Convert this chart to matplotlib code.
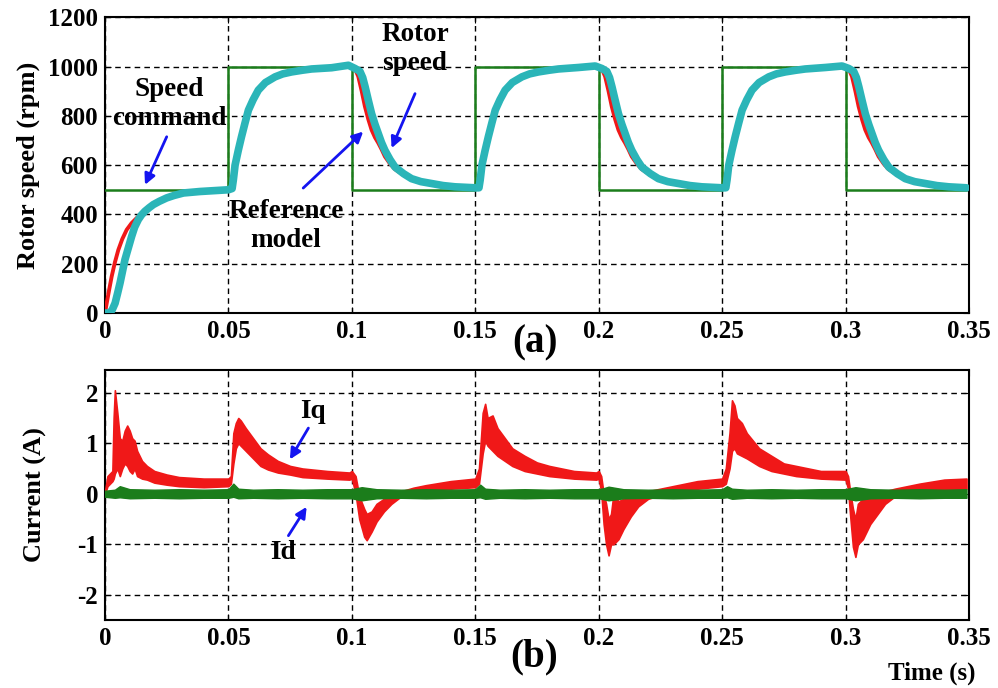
import numpy as np
import matplotlib
matplotlib.use("Agg")
import matplotlib.pyplot as plt

plt.rcParams['font.family'] = ['Liberation Serif', 'DejaVu Serif']
plt.rcParams['font.weight'] = 'bold'
plt.rcParams['axes.unicode_minus'] = False

## speed command (rpm), step changes
cmd_t = [0, 0.05, 0.1, 0.15, 0.2, 0.25, 0.3, 0.349]
cmd_v = [500, 1000, 500, 1000, 500, 1000, 500, 500]

## measured rotor speed (rpm)
rotor_t = [0, 0.002, 0.003, 0.0041, 0.0051, 0.0061, 0.0071, 0.0081, 0.0095, 0.0108, 0.012, 0.0135, 0.0148,
           0.0162, 0.018, 0.0196, 0.022, 0.025, 0.028, 0.0318, 0.0385, 0.045, 0.050,
           0.0515, 0.052, 0.0527, 0.054, 0.0553, 0.0567, 0.0581, 0.060, 0.0621, 0.065, 0.0689, 0.072, 0.0756,
           0.080, 0.0837, 0.0918, 0.0986,
           0.1013, 0.1033, 0.1044, 0.1054, 0.1067, 0.108, 0.1094, 0.1107, 0.112, 0.1134, 0.1155, 0.1175, 0.121,
           0.1242, 0.128, 0.1324, 0.137, 0.1418, 0.150,
           0.1515, 0.152, 0.1527, 0.154, 0.1553, 0.1567, 0.1581, 0.160, 0.1621, 0.165, 0.1689, 0.172, 0.1756,
           0.180, 0.1837, 0.1918, 0.1986,
           0.2013, 0.2033, 0.2044, 0.2054, 0.2067, 0.208, 0.2094, 0.2107, 0.212, 0.2134, 0.2155, 0.2175, 0.221,
           0.2242, 0.228, 0.2324, 0.237, 0.2418, 0.250,
           0.2515, 0.252, 0.2527, 0.254, 0.2553, 0.2567, 0.2581, 0.260, 0.2621, 0.265, 0.2689, 0.272, 0.2756,
           0.280, 0.2837, 0.2918, 0.2986,
           0.3013, 0.3033, 0.3044, 0.3054, 0.3067, 0.308, 0.3094, 0.3107, 0.312, 0.3134, 0.3155, 0.3175, 0.321,
           0.3242, 0.328, 0.3324, 0.337, 0.3418, 0.349]
rotor_v = [0, 0, 15, 40, 80, 122, 170, 217, 265, 311, 348, 379, 398,
           413, 428, 440, 453, 467, 477, 487, 493, 497, 500,
           505, 540, 600, 660, 715, 770, 823, 865, 904, 935, 958, 970, 978,
           985, 990, 995, 1005,
           992, 980, 955, 917, 862, 809, 765, 728, 692, 660, 622, 592, 565,
           545, 533, 525, 517, 512, 508,
           508, 540, 600, 660, 715, 770, 823, 865, 904, 935, 958, 970, 978,
           985, 990, 996, 1002,
           992, 980, 955, 917, 862, 809, 765, 728, 692, 660, 622, 592, 565,
           545, 533, 525, 517, 512, 508,
           508, 540, 600, 660, 715, 770, 823, 865, 904, 935, 958, 970, 978,
           985, 990, 996, 1002,
           992, 980, 955, 917, 862, 809, 765, 728, 692, 660, 622, 592, 565,
           545, 533, 525, 517, 512, 508]

## reference model speed (rpm)
ref_t = [0, 0.0007, 0.0017, 0.0027, 0.004, 0.0054, 0.007, 0.0088, 0.0108, 0.0128, 0.0148, 0.0162, 0.0196,
         0.025, 0.0318, 0.0385, 0.045, 0.050,
         0.0515, 0.052, 0.0527, 0.054, 0.0553, 0.0567, 0.0581, 0.060, 0.0621, 0.065, 0.0689, 0.072, 0.0756,
         0.080, 0.0837, 0.0918, 0.0995,
         0.1005, 0.1015, 0.1026, 0.104, 0.1053, 0.1067, 0.108, 0.1094, 0.1107, 0.112, 0.1134, 0.1155, 0.1175,
         0.121, 0.1242, 0.128, 0.1324, 0.1418, 0.150,
         0.1515, 0.152, 0.1527, 0.154, 0.1553, 0.1567, 0.1581, 0.160, 0.1621, 0.165, 0.1689, 0.172, 0.1756,
         0.180, 0.1837, 0.1918, 0.1995,
         0.2005, 0.2015, 0.2026, 0.204, 0.2053, 0.2067, 0.208, 0.2094, 0.2107, 0.212, 0.2134, 0.2155, 0.2175,
         0.221, 0.2242, 0.228, 0.2324, 0.2418, 0.250,
         0.2515, 0.252, 0.2527, 0.254, 0.2553, 0.2567, 0.2581, 0.260, 0.2621, 0.265, 0.2689, 0.272, 0.2756,
         0.280, 0.2837, 0.2918, 0.2995,
         0.3005, 0.3015, 0.3026, 0.304, 0.3053, 0.3067, 0.308, 0.3094, 0.3107, 0.312, 0.3134, 0.3155, 0.3175,
         0.321, 0.3242, 0.328, 0.3324, 0.3418, 0.349]
ref_v = [0, 40, 95, 148, 205, 256, 300, 338, 365, 385, 402, 413, 440,
         467, 487, 493, 497, 500,
         505, 540, 600, 660, 715, 770, 823, 865, 904, 935, 958, 970, 978,
         985, 990, 995, 1000,
         995, 985, 960, 900, 838, 785, 743, 712, 690, 665, 635, 605, 583,
         560, 542, 530, 522, 510, 505,
         505, 540, 600, 660, 715, 770, 823, 865, 904, 935, 958, 970, 978,
         985, 990, 995, 1000,
         995, 985, 960, 900, 838, 785, 743, 712, 690, 665, 635, 605, 583,
         560, 542, 530, 522, 510, 505,
         505, 540, 600, 660, 715, 770, 823, 865, 904, 935, 958, 970, 978,
         985, 990, 995, 1000,
         995, 985, 960, 900, 838, 785, 743, 712, 690, 665, 635, 605, 583,
         560, 542, 530, 522, 510, 505]

## Iq current band (A): time, lower and upper edge
iq_t = [0.000, 0.001, 0.003, 0.0035, 0.004, 0.005, 0.006, 0.007, 0.008, 0.009, 0.010, 0.011, 0.012, 0.013,
        0.015, 0.017, 0.020, 0.025, 0.030, 0.040, 0.050,
        0.051, 0.052, 0.053, 0.054, 0.055, 0.057, 0.060, 0.063, 0.066, 0.070, 0.075, 0.080, 0.090, 0.099,
        0.100, 0.1015, 0.103, 0.105, 0.106, 0.108, 0.110, 0.113, 0.116, 0.120, 0.125, 0.130, 0.140, 0.150,
        0.1515, 0.153, 0.154, 0.155, 0.157, 0.159, 0.162, 0.165, 0.170, 0.175, 0.180, 0.190, 0.199,
        0.200, 0.201, 0.202, 0.203, 0.204, 0.205, 0.206, 0.208, 0.210, 0.213, 0.216, 0.220, 0.230, 0.240, 0.250,
        0.2515, 0.253, 0.254, 0.255, 0.256, 0.258, 0.260, 0.265, 0.270, 0.275, 0.280, 0.290,
        0.300, 0.301, 0.302, 0.303, 0.304, 0.305, 0.307, 0.310, 0.313, 0.316, 0.320, 0.330, 0.340, 0.349]
iq_lo = [0.0, 0.15, 0.25, 0.3, 0.4, 0.5, 0.35, 0.5, 0.6, 0.55, 0.45, 0.4, 0.5, 0.35,
         0.3, 0.28, 0.22, 0.18, 0.15, 0.13, 0.15,
         0.2, 0.6, 0.9, 1.0, 0.95, 0.85, 0.7, 0.55, 0.48, 0.42, 0.38, 0.33, 0.3, 0.28,
         0.3, 0.0, -0.5, -0.85, -0.92, -0.75, -0.55, -0.35, -0.2, -0.05, 0.0, 0.05, 0.1, 0.13,
         0.2, 0.8, 1.05, 0.95, 0.85, 0.75, 0.65, 0.55, 0.45, 0.4, 0.35, 0.3, 0.28,
         0.3, 0.05, -0.6, -1.0, -1.22, -1.0, -1.0, -0.9, -0.7, -0.45, -0.25, -0.1, 0.05, 0.1, 0.15,
         0.2, 0.5, 0.85, 0.9, 0.8, 0.75, 0.7, 0.55, 0.45, 0.4, 0.35, 0.3,
         0.28, 0.1, -0.5, -1.05, -1.25, -1.0, -0.9, -0.6, -0.4, -0.2, -0.05, 0.05, 0.08, 0.1]
iq_hi = [0.05, 0.35, 0.45, 1.5, 2.05, 1.6, 1.1, 1.05, 1.25, 1.35, 1.25, 1.1, 1.05, 0.85,
         0.65, 0.55, 0.45, 0.38, 0.33, 0.3, 0.3,
         0.35, 1.2, 1.4, 1.5, 1.45, 1.3, 1.1, 0.9, 0.78, 0.65, 0.55, 0.5, 0.45, 0.42,
         0.45, 0.35, -0.05, -0.3, -0.4, -0.35, -0.2, -0.1, 0.0, 0.05, 0.12, 0.17, 0.25, 0.3,
         0.5, 1.6, 1.78, 1.5, 1.55, 1.3, 1.1, 0.9, 0.75, 0.62, 0.55, 0.45, 0.42,
         0.45, 0.35, 0.0, -0.2, -0.5, -0.4, 0.0, -0.15, -0.1, -0.05, 0.0, 0.05, 0.15, 0.25, 0.3,
         0.5, 1.2, 1.85, 1.75, 1.5, 1.4, 1.2, 0.9, 0.75, 0.6, 0.55, 0.45,
         0.45, 0.35, 0.0, -0.3, -0.5, -0.2, -0.1, -0.05, 0.0, 0.05, 0.1, 0.2, 0.28, 0.3]

## Id current band (A)
id_t = [0.0, 0.004, 0.006, 0.01, 0.02, 0.03, 0.04, 0.05, 0.052, 0.054, 0.06, 0.07, 0.08, 0.09, 0.1,
        0.102, 0.104, 0.11, 0.12, 0.13, 0.14, 0.15, 0.152, 0.154, 0.16, 0.17, 0.18, 0.19, 0.2,
        0.202, 0.204, 0.21, 0.22, 0.23, 0.24, 0.25, 0.252, 0.254, 0.26, 0.27, 0.28, 0.29, 0.3,
        0.302, 0.304, 0.31, 0.32, 0.33, 0.34, 0.349]
id_lo = [-0.06, -0.08, -0.07, -0.09, -0.08, -0.09, -0.08, -0.08, -0.06, -0.09, -0.08, -0.09, -0.08, -0.09, -0.09,
         -0.11, -0.13, -0.09, -0.08, -0.09, -0.08, -0.08, -0.07, -0.1, -0.08, -0.09, -0.08, -0.09, -0.09,
         -0.11, -0.13, -0.09, -0.08, -0.09, -0.08, -0.08, -0.07, -0.1, -0.08, -0.09, -0.08, -0.09, -0.09,
         -0.11, -0.13, -0.09, -0.08, -0.09, -0.08, -0.08]
id_hi = [0.06, 0.08, 0.15, 0.09, 0.08, 0.09, 0.08, 0.09, 0.2, 0.1, 0.08, 0.09, 0.08, 0.09, 0.09,
         0.11, 0.13, 0.09, 0.08, 0.09, 0.08, 0.09, 0.18, 0.1, 0.08, 0.09, 0.08, 0.09, 0.09,
         0.11, 0.14, 0.09, 0.08, 0.09, 0.08, 0.09, 0.15, 0.1, 0.08, 0.09, 0.08, 0.09, 0.09,
         0.11, 0.13, 0.09, 0.08, 0.09, 0.08, 0.09]

x_ticks = [0, 0.05, 0.1, 0.15, 0.2, 0.25, 0.3, 0.35]
x_labels = ['0', '0.05', '0.1', '0.15', '0.2', '0.25', '0.3', '0.35']

green = '#1b7d1b'
cyan = '#2bb5b8'
red = '#f01818'
blue = '#1414f0'

fig = plt.figure(figsize=(9.98, 6.88), dpi=100)
ax1 = fig.add_axes([0.1052, 0.545, 0.8657, 0.430])
ax2 = fig.add_axes([0.1052, 0.0988, 0.8657, 0.3634])

def style(ax):
    ax.set_xlim(0, 0.35)
    ax.set_xticks(x_ticks)
    ax.set_xticklabels(x_labels)
    ax.grid(True, color='black', linestyle=(0, (4, 3)), linewidth=1.0)
    ax.tick_params(direction='in', length=4, top=True, right=True, labelsize=18, pad=5)
    for s in ax.spines.values():
        s.set_linewidth(1.5)
    for lab in ax.get_xticklabels() + ax.get_yticklabels():
        lab.set_fontweight('bold')

## (a) rotor speed
ax1.plot(cmd_t, cmd_v, drawstyle='steps-post', color=green, lw=1.8, zorder=3)
ax1.plot(ref_t, ref_v, color=red, lw=2.8, zorder=4)
ax1.plot(rotor_t, rotor_v, color=cyan, lw=5.5, zorder=5, solid_capstyle='round', solid_joinstyle='round')
ax1.set_ylim(0, 1200)
ax1.set_yticks([0, 200, 400, 600, 800, 1000, 1200])
style(ax1)
ax1.set_ylabel('Rotor speed (rpm)', fontsize=19, fontweight='bold', labelpad=6)

arr = dict(arrowstyle='-|>', color=blue, lw=2, mutation_scale=16, shrinkA=0, shrinkB=0)
ax1.text(0.0259, 848, 'Speed\ncommand', ha='center', va='center', fontsize=19.5, fontweight='bold', zorder=6)
ax1.annotate('', xy=(0.0162, 520), xytext=(0.025, 715), arrowprops=arr, zorder=6)
ax1.text(0.1256, 1071, 'Rotor\nspeed', ha='center', va='center', fontsize=19.5, fontweight='bold', zorder=6)
ax1.annotate('', xy=(0.1161, 669), xytext=(0.1256, 890), arrowprops=arr, zorder=6)
ax1.text(0.0733, 354, 'Reference\nmodel', ha='center', va='center', fontsize=19.5, fontweight='bold', zorder=6)
ax1.annotate('', xy=(0.1046, 736), xytext=(0.0803, 507), arrowprops=arr, zorder=6)

## (b) currents
ax2.fill_between(iq_t, iq_lo, iq_hi, color=red, lw=1.2, edgecolor=red, zorder=3)
ax2.fill_between(id_t, id_lo, id_hi, color=green, lw=1.0, edgecolor=green, zorder=4)
ax2.set_ylim(-2.5, 2.45)
ax2.set_yticks([-2, -1, 0, 1, 2])
style(ax2)
ax2.set_ylabel('Current (A)', fontsize=19, fontweight='bold', labelpad=22)

ax2.text(0.0843, 1.62, 'Iq', ha='center', va='center', fontsize=19.5, fontweight='bold', zorder=6)
ax2.annotate('', xy=(0.0749, 0.68), xytext=(0.0824, 1.30), arrowprops=arr, zorder=6)
ax2.text(0.0721, -1.16, 'Id', ha='center', va='center', fontsize=19.5, fontweight='bold', zorder=6)
ax2.annotate('', xy=(0.0817, -0.26), xytext=(0.0743, -0.83), arrowprops=arr, zorder=6)

fig.text(535 / 998, 1 - 343 / 688, '(a)', ha='center', va='center', fontsize=28, fontweight='bold')
fig.text(534 / 998, 1 - 657 / 688, '(b)', ha='center', va='center', fontsize=28, fontweight='bold')
fig.text(932 / 998, 1 - 673 / 688, 'Time (s)', ha='center', va='center', fontsize=18, fontweight='bold')

fig.savefig('out.png', dpi=100)
